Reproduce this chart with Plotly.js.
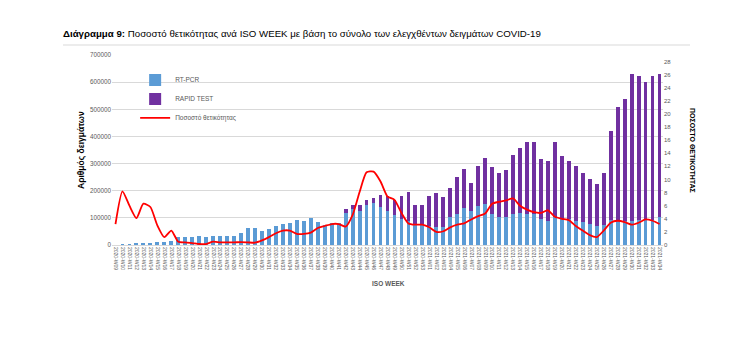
<!DOCTYPE html>
<html>
<head>
<meta charset="utf-8">
<script src="https://cdn.plot.ly/plotly-3.0.1.min.js"></script>
<style>html,body{margin:0;padding:0;background:#fff;}#chart{width:750px;height:360px;}</style>
</head>
<body>
<div id="chart"></div>
<script>
const weeks = [
 "2020-W09","2020-W10","2020-W11","2020-W12","2020-W13","2020-W14","2020-W15","2020-W16","2020-W17","2020-W18",
 "2020-W19","2020-W20","2020-W21","2020-W22","2020-W23","2020-W24","2020-W25","2020-W26","2020-W27","2020-W28",
 "2020-W29","2020-W30","2020-W31","2020-W32","2020-W33","2020-W34","2020-W35","2020-W36","2020-W37","2020-W38",
 "2020-W39","2020-W40","2020-W41","2020-W42","2020-W43","2020-W44","2020-W45","2020-W46","2020-W47","2020-W48",
 "2020-W49","2020-W50","2020-W51","2020-W52","2020-W53","2021-W01","2021-W02","2021-W03","2021-W04","2021-W05",
 "2021-W06","2021-W07","2021-W08","2021-W09","2021-W10","2021-W11","2021-W12","2021-W13","2021-W14","2021-W15",
 "2021-W16","2021-W17","2021-W18","2021-W19","2021-W20","2021-W21","2021-W22","2021-W23","2021-W24","2021-W25",
 "2021-W26","2021-W27","2021-W28","2021-W29","2021-W30","2021-W31","2021-W32","2021-W33","2021-W34"
];

const rtpcr = [
 1000,2000,4000,8000,8000,8000,11000,12000,15000,29000,
 28000,29000,34000,28000,34000,35000,35000,35000,44000,62000,
 63000,52000,58000,70000,78000,80000,93000,89000,99000,86000,
 74000,80000,80000,119000,132000,127000,148000,154000,141000,127000,
 111000,97000,90000,78000,78000,71000,68000,66000,105000,115000,
 136000,127000,145000,151000,113000,103000,102000,115000,117000,115000,
 113000,95000,89000,105000,95000,95000,89000,83000,77000,71000,
 74000,93000,90000,89000,89000,93000,95000,93000,105000
];

const rapid = [
 0,0,0,0,0,0,0,0,0,0,
 0,0,0,0,0,0,0,0,0,0,
 0,0,0,0,0,0,0,0,0,0,
 0,0,0,13000,16000,20000,18000,18000,43000,54000,
 55000,85000,106000,70000,70000,110000,125000,110000,104000,136000,
 144000,102000,147000,171000,175000,161000,176000,216000,242000,265000,
 267000,222000,219000,276000,232000,215000,201000,183000,168000,153000,
 192000,327000,420000,449000,541000,528000,507000,530000,525000
];

const positivity = [
 3.2,8.2,6.0,4.1,6.3,5.8,3.0,1.2,2.2,0.5,
 0.4,0.3,0.15,0.15,0.5,0.4,0.4,0.4,0.45,0.4,
 0.35,0.7,1.2,1.8,2.2,2.2,1.7,1.7,1.9,2.6,
 2.9,3.2,3.2,2.8,4.6,8.1,11.1,11.2,9.7,7.4,
 6.9,4.9,3.3,3.1,3.1,2.7,2.0,2.1,2.7,3.1,
 3.3,3.9,4.4,4.8,6.3,6.6,6.8,7.1,6.0,5.4,
 5.0,4.9,5.3,4.3,4.0,3.8,2.9,2.2,1.5,1.2,
 2.2,3.4,3.7,3.5,3.1,3.4,3.9,3.7,3.2
];

const FONT = "Liberation Sans, Arial, sans-serif";
const GREY = "#595959";

const traces = [
 {type:"bar", name:"RT-PCR", x:weeks, y:rtpcr, marker:{color:"#5B9BD5"}, legendgroup:"a", hoverinfo:"x+y"},
 {type:"bar", name:"RAPID TEST", x:weeks, y:rapid, marker:{color:"#7030A0"}, legendgroup:"b", hoverinfo:"x+y"},
 {type:"scatter", mode:"lines", name:"Ποσοστό θετικότητας", x:weeks, y:positivity, yaxis:"y2",
  line:{color:"#FF0000", width:1.8, shape:"spline", smoothing:0.6}, legendgroup:"c"}
];

const layout = {
 width:750, height:360,
 margin:{l:112, r:87, t:55, b:115, pad:0},
 paper_bgcolor:"#ffffff", plot_bgcolor:"#ffffff",
 font:{family:FONT, color:GREY, size:6},
 barmode:"stack", bargap:0.45,
 title:{text:"<b>Διάγραμμα 9:</b> Ποσοστό θετικότητας ανά ISO WEEK με βάση το σύνολο των ελεγχθέντων δειγμάτων COVID-19",
        x:63/750, xanchor:"left", xref:"container", y:1-34/360, yanchor:"middle", yref:"container",
        font:{family:FONT, size:9.7, color:"#000000"}},
 showlegend:true,
 legend:{x:0.042, xanchor:"left", y:0.945, yanchor:"top", traceorder:"grouped", tracegroupgap:0,
         font:{family:FONT, size:6.5, color:GREY}, bgcolor:"rgba(0,0,0,0)", itemwidth:30},
 xaxis:{type:"category", tickangle:90, tickfont:{size:5, color:GREY}, showline:true, linecolor:"#D9D9D9",
        linewidth:1, ticks:"", showgrid:false, automargin:false},
 yaxis:{range:[0,700000], dtick:100000, tick0:0, tickformat:"d", showgrid:true, gridcolor:"#D9D9D9", gridwidth:1,
        zeroline:false, showline:false, tickfont:{size:6.3, color:GREY}, ticks:"", automargin:false},
 yaxis2:{overlaying:"y", side:"right", range:[0,29], dtick:2, tick0:0, showgrid:false, zeroline:false, showline:false,
        tickfont:{size:6, color:GREY}, ticks:"", automargin:false},
 annotations:[
  {text:"<b>Αριθμός δειγμάτων</b>", xref:"paper", yref:"paper", x:(81-112)/551, y:(245-150)/190, textangle:-90,
   showarrow:false, font:{family:FONT, size:8.5, color:"#000000"}, xanchor:"center", yanchor:"middle"},
  {text:"<b>ΠΟΣΟΣΤΟ ΘΕΤΙΚΟΤΗΤΑΣ</b>", xref:"paper", yref:"paper", x:(693-112)/551, y:(245-150)/190, textangle:90,
   showarrow:false, font:{family:FONT, size:7, color:"#000000"}, xanchor:"center", yanchor:"middle"},
  {text:"<b>ISO WEEK</b>", xref:"paper", yref:"paper", x:(388-112)/551, y:(245-283)/190,
   showarrow:false, font:{family:FONT, size:6.5, color:GREY}, xanchor:"center", yanchor:"middle"}
 ],
 shapes:[
  {type:"line", xref:"paper", yref:"paper", x0:(63-112)/551, x1:(690-112)/551, y0:(245-45)/190, y1:(245-45)/190,
   line:{color:"#D9D9D9", width:1}}
 ]
};

Plotly.newPlot("chart", traces, layout, {displayModeBar:false, staticPlot:true});
</script>
</body>
</html>
